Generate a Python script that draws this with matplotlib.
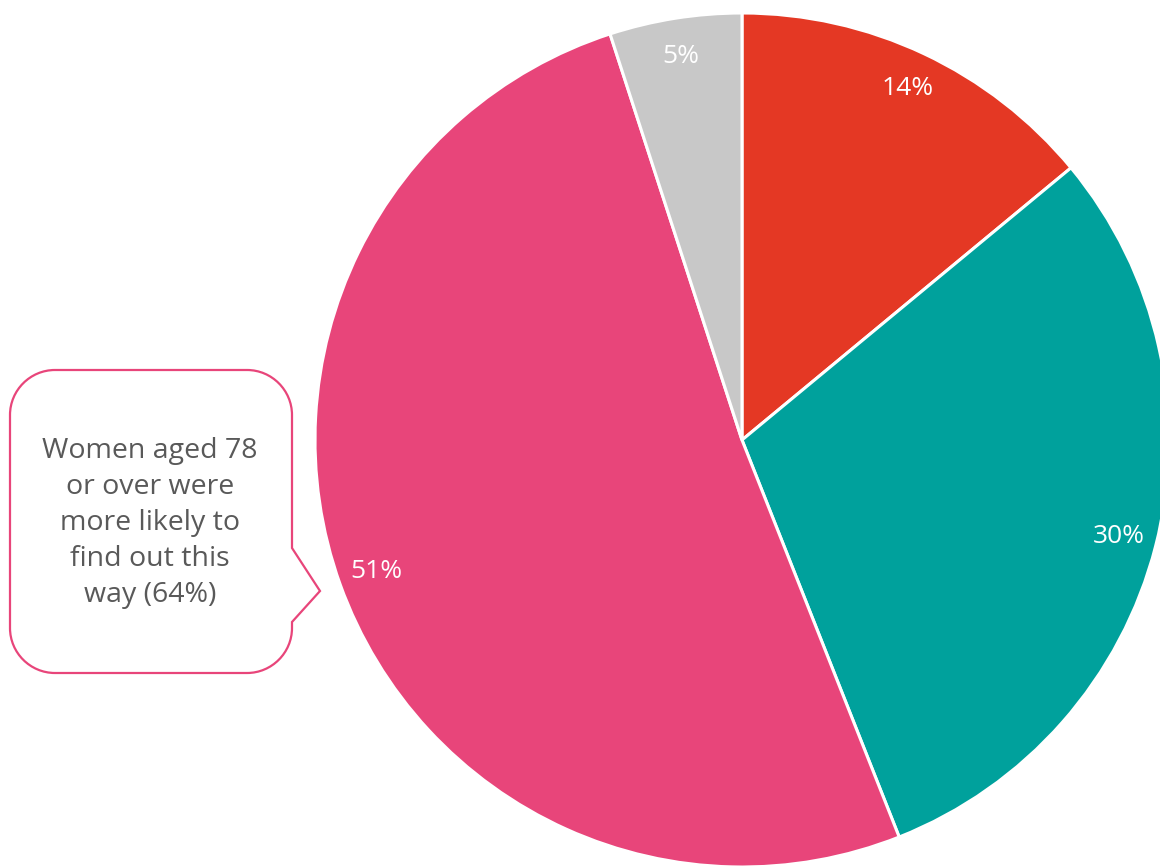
import matplotlib
matplotlib.use("Agg")
import matplotlib.pyplot as plt
from matplotlib.path import Path
from matplotlib.patches import PathPatch
import numpy as np

values = [14, 30, 51, 5]
labels = ["14%", "30%", "51%", "5%"]
colors = ["#E43824", "#00A19C", "#E8457A", "#C8C8C8"]
callout_text = "Women aged 78\nor over were\nmore likely to\nfind out this\nway (64%)"

W, H = 1160, 866
fig = plt.figure(figsize=(W / 100, H / 100), dpi=100)
ax = fig.add_axes([0, 0, 1, 1])

cx, cy, R = 742, H - 440, 427
wedges, texts = ax.pie(values, colors=colors, startangle=90, counterclock=False,
                       center=(cx, cy), radius=R, frame=True,
                       wedgeprops=dict(edgecolor="white", linewidth=2.2))
ax.set_xlim(0, W)
ax.set_ylim(0, H)
ax.set_aspect("equal")
ax.axis("off")

# percentage labels
cum = np.cumsum([0] + values[:-1])
for v, c, lab in zip(values, cum, labels):
    ang = np.deg2rad(90 - 360 * (c + v / 2) / 100)
    r = 0.91 * R
    ax.text(cx + r * np.cos(ang), cy + r * np.sin(ang), lab, color="white",
            fontsize=19, ha="center", va="center", family="Open Sans")

# callout box
x0, x1, y0, y1 = 10, 292, H - 673, H - 370
rr = 45
k = 0.55 * rr
verts = [
    (x0 + rr, y1), (x1 - rr, y1),
    (x1 - rr + k, y1), (x1, y1 - rr + k), (x1, y1 - rr),
    (x1, H - 548), (320, H - 591), (x1, H - 622),
    (x1, y0 + rr),
    (x1, y0 + rr - k), (x1 - rr + k, y0), (x1 - rr, y0),
    (x0 + rr, y0),
    (x0 + rr - k, y0), (x0, y0 + rr - k), (x0, y0 + rr),
    (x0, y1 - rr),
    (x0, y1 - rr + k), (x0 + rr - k, y1), (x0 + rr, y1),
    (x0 + rr, y1),
]
codes = [Path.MOVETO, Path.LINETO,
         Path.CURVE4, Path.CURVE4, Path.CURVE4,
         Path.LINETO, Path.LINETO, Path.LINETO,
         Path.LINETO,
         Path.CURVE4, Path.CURVE4, Path.CURVE4,
         Path.LINETO,
         Path.CURVE4, Path.CURVE4, Path.CURVE4,
         Path.LINETO,
         Path.CURVE4, Path.CURVE4, Path.CURVE4,
         Path.CLOSEPOLY]
ax.add_patch(PathPatch(Path(verts, codes), facecolor="white", edgecolor="#E8457A",
                       linewidth=1.6, zorder=5))
ax.text(150, H - 523, callout_text, color="#595959", fontsize=20.5, ha="center",
        va="center", linespacing=1.39, family="Open Sans", zorder=6)

fig.savefig("out.png", dpi=100)
